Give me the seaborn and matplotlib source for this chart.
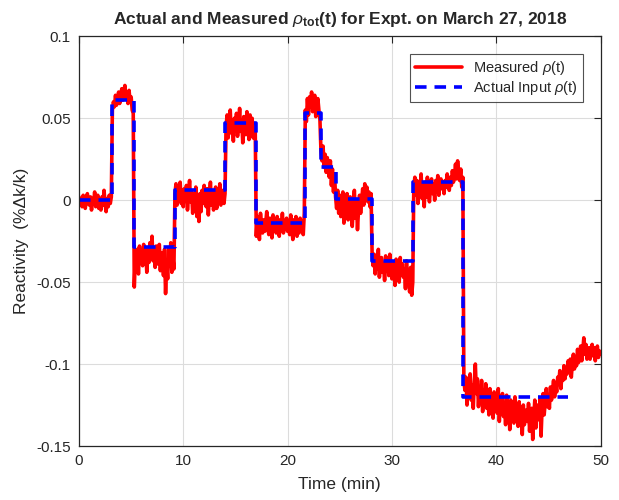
"""
plot.py

Actual vs measured reactivity for the March 27, 2018 experiment.
"""

import numpy as np
import matplotlib
matplotlib.use("Agg")
import matplotlib.pyplot as plt
import seaborn as sns

# --- data -------------------------------------------------------------------
# actual input reactivity (step changes), value holds until the next time
step_times = [0.0, 3.13, 5.27, 9.17, 14.03, 16.94, 21.67, 23.17, 24.64,
              28.06, 32.05, 36.85, 46.85]
step_levels = [0.0, 0.061, -0.0285, 0.006, 0.047, -0.0142, 0.0534, 0.0205,
               0.0005, -0.0374, 0.0112, -0.120, -0.120]

# measured reactivity, sampled every 0.1 min (units of 1e-3 %dk/k)
sample_step = 0.1
measured_1e3 = [
    2, -3, 1, -4, 3, -1, -5, 0, 4, -2,                       # 0
    -3, 2, -6, 1, -2, 5, -4, -1, 3, -5,                      # 1
    0, -6, 2, -3, 6, -2, -7, 1, -4, 3,                       # 2
    -2, 2, 55, 60, 57, 64, 58, 62, 66, 59,                   # 3
    63, 68, 61, 66, 70, 62, 65, 59, 67, 60,                  # 4
    63, 55, 53, -53, -35, -42, -30, -45, -28, -38,           # 5
    -33, -40, -27, -36, -31, -44, -29, -38, -26, -35,        # 6
    -22, -37, -30, -41, -28, -34, -39, -27, -43, -32,        # 7
    -36, -46, -30, -57, -38, -48, -29, -40, -26, -44,        # 8
    -35, -42, 4, 10, -3, 8, 1, 11, -2, 6,                    # 9
    -4, 7, 0, 9, -6, 3, 12, -1, 5, -8,                       # 10
    2, -5, 8, -10, 0, -13, 4, -7, 6, -2,                     # 11
    9, 1, -4, 7, -9, 3, 11, -3, 5, -6,                       # 12
    0, 8, -5, 4, -1, 10, -3, 6, 2, -2,                       # 13
    4, 45, 52, 38, 48, 55, 41, 47, 36, 50,                   # 14
    44, 53, 39, 46, 56, 42, 49, 35, 51, 45,                  # 15
    40, 54, 47, 37, 52, 43, 50, 38, 46, 41,                  # 16
    -22, -10, -18, -24, -8, -16, -20, -12, -19, -14,         # 17
    -7, -17, -21, -11, -15, -23, -9, -18, -13, -20,          # 18
    -10, -16, -22, -12, -18, -8, -20, -14, -17, -11,         # 19
    -19, -13, -21, -9, -16, -24, -12, -18, -10, -22,         # 20
    -15, -20, -11, -17, -13, -21, -8, 55, 48, 62,            # 21
    52, 63, 57, 66, 54, 60, 64, 51, 58, 62,                  # 22
    55, 49, 30, 24, 33, 20, 28, 17, 26, 22,                  # 23
    14, 24, 9, 19, 5, 16, 2, -5, 6, -8,                      # 24
    3, -10, -2, 5, -14, 0, -7, 4, -12, -3,                   # 25
    2, -9, -16, -4, 6, -11, -1, -18, -6, 3,                  # 26
    -8, 0, 7, -3, 10, 2, 8, -1, 5, -4,                       # 27
    4, -32, -40, -33, -45, -36, -42, -30, -47, -38,          # 28
    -35, -44, -39, -49, -34, -42, -37, -46, -33, -41,        # 29
    -48, -38, -43, -52, -36, -45, -40, -50, -35, -44,        # 30
    -39, -47, -42, -54, -37, -49, -45, -56, -41, -58,        # 31
    -50, 8, 14, 3, 12, -2, 10, 5, 16, 1,                     # 32
    9, -4, 11, 2, 14, 6, -1, 8, 13, 4,                       # 33
    10, 0, 12, 5, 15, 3, 9, 13, 7, 11,                       # 34
    4, 12, 8, 16, 10, 6, 14, 9, 18, 11,                      # 35
    15, 22, 13, 24, 17, 12, 19, 8, 14, -110,                 # 36
    -116, -108, -125, -112, -120, -106, -122, -113, -127, -111,  # 37
    -100, -118, -109, -126, -114, -121, -110, -129, -116, -123,  # 38
    -112, -127, -119, -131, -115, -124, -120, -133, -117, -126,  # 39
    -122, -130, -115, -135, -121, -128, -118, -132, -124, -137,  # 40
    -119, -129, -125, -140, -122, -131, -127, -136, -120, -133,  # 41
    -126, -138, -123, -134, -129, -143, -125, -137, -131, -128,  # 42
    -135, -124, -141, -130, -127, -146, -133, -122, -139, -128,  # 43
    -125, -134, -121, -144, -127, -118, -131, -123, -115, -126,  # 44
    -119, -127, -114, -122, -116, -110, -120, -113, -117, -108,  # 45
    -112, -104, -115, -107, -110, -101, -109, -103, -106, -98,   # 46
    -104, -97, -108, -100, -94, -103, -96, -101, -91, -99,       # 47
    -95, -89, -98, -92, -84, -94, -88, -97, -93, -90,            # 48
    -97, -91, -88, -95, -90, -98, -93, -89, -96, -92,            # 49
    -94,                                                         # 50
]

x_ticks = [0, 10, 20, 30, 40, 50]
y_ticks = [-0.15, -0.1, -0.05, 0, 0.05, 0.1]
y_tick_labels = ["-0.15", "-0.1", "-0.05", "0", "0.05", "0.1"]

# --- style ------------------------------------------------------------------
sns.set_style("white")
plt.rcParams["font.family"] = ["Liberation Sans", "DejaVu Sans"]
plt.rcParams["mathtext.fontset"] = "custom"
plt.rcParams["mathtext.rm"] = "Liberation Sans"
plt.rcParams["mathtext.it"] = "Liberation Sans:italic"
plt.rcParams["mathtext.bf"] = "Liberation Sans:bold"
plt.rcParams["axes.unicode_minus"] = False

time_min = np.arange(len(measured_1e3)) * sample_step
measured = np.array(measured_1e3) * 1e-3

fig = plt.figure(figsize=(6.19, 5.0), dpi=100)
ax = fig.add_axes([79 / 619, 54 / 500, 521.5 / 619, 409.7 / 500])

sns.lineplot(x=time_min, y=measured, color="#ff0000", linewidth=2.6,
             estimator=None, sort=False, ax=ax, label=r"Measured $\rho$(t)")
sns.lineplot(x=step_times, y=step_levels, color="#0000ff", linewidth=2.6,
             linestyle=(0, (3.2, 2.2)), drawstyle="steps-post",
             estimator=None, sort=False, ax=ax,
             label=r"Actual Input $\rho$(t)")

ax.set_xlim(0, 50)
ax.set_ylim(-0.15, 0.1)
ax.set_xticks(x_ticks)
ax.set_yticks(y_ticks)
ax.set_yticklabels(y_tick_labels)
ax.grid(True, color="#dcdcdc", linewidth=0.8)
ax.set_axisbelow(True)
ax.tick_params(direction="in", length=5, width=0.8, colors="#262626",
               labelsize=11, top=True, right=True, pad=6)
for s in ax.spines.values():
    s.set_color("#262626")
    s.set_linewidth(0.9)

ax.set_xlabel("Time (min)", fontsize=12.5, color="#262626", labelpad=6)
ax.set_ylabel("Reactivity  (%Δk/k)", fontsize=12.5, color="#262626", labelpad=5)
ax.set_title(r"Actual and Measured $\rho_{\mathbf{tot}}$(t) for Expt. on March 27, 2018",
             fontsize=12.5, fontweight="bold", pad=9)

leg = ax.legend(loc="upper right", fontsize=10.5, frameon=True, fancybox=False,
                borderaxespad=1.2, handlelength=3.2, labelspacing=0.15,
                borderpad=0.35)
leg.get_frame().set_edgecolor("#262626")
leg.get_frame().set_linewidth(0.8)

fig.savefig("out.png", dpi=100)
